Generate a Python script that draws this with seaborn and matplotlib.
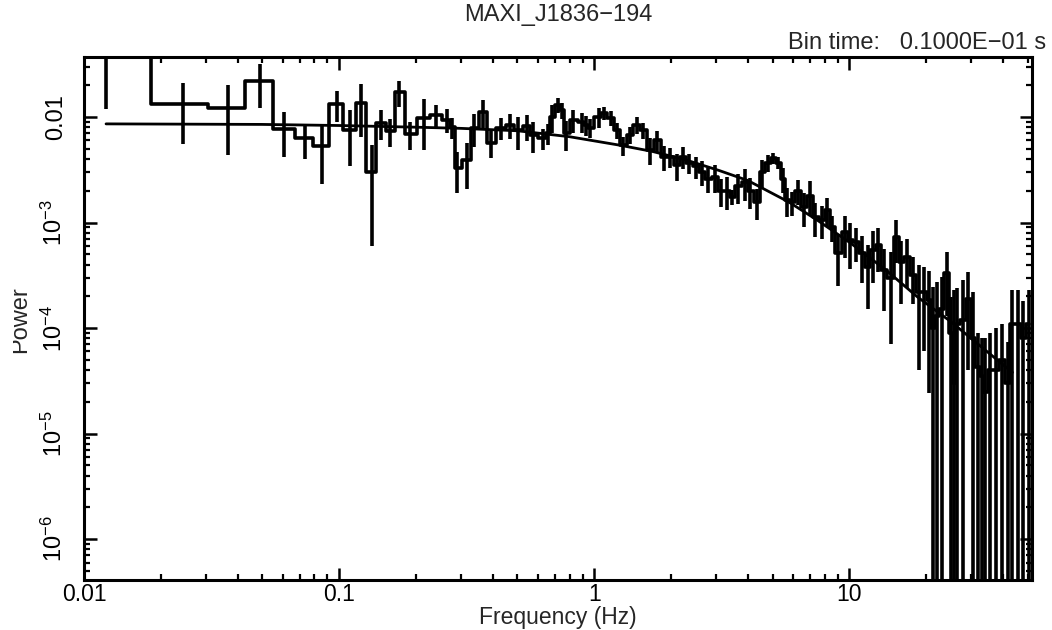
import numpy as np
import matplotlib
matplotlib.use("Agg")
import matplotlib.pyplot as plt
import matplotlib.ticker as mticker
from matplotlib.transforms import Bbox, TransformedBbox
import seaborn as sns

# Rebinned power density spectrum of MAXI J1836-194 (bin time 0.01 s)
freq = [
    0.0122, 0.0244, 0.0366, 0.0488, 0.0610, 0.0732, 0.0854, 0.0977, 0.110, 0.122,
    0.134, 0.146, 0.159, 0.171, 0.190, 0.215, 0.240, 0.265, 0.278, 0.290,
    0.318, 0.338, 0.367, 0.394, 0.432, 0.468, 0.504, 0.546, 0.577, 0.631,
    0.660, 0.684, 0.722, 0.750, 0.777, 0.827, 0.897, 0.930, 0.964, 1.04,
    1.09, 1.16, 1.23, 1.30, 1.38, 1.47, 1.56, 1.66, 1.77, 1.87,
    1.99, 2.11, 2.23, 2.36, 2.51, 2.65, 2.80, 2.98, 3.15, 3.32,
    3.48, 3.67, 3.91, 4.09, 4.36, 4.56, 4.81, 5.04, 5.27, 5.51,
    5.71, 5.97, 6.31, 6.66, 7.03, 7.36, 7.84, 8.21, 8.58, 9.06,
    9.64, 10.1, 10.6, 11.2, 11.8, 12.4, 13.0, 13.7, 14.5, 15.3,
    16.0, 16.9, 17.8, 18.7, 19.7, 20.6, 21.3, 22.1, 23.0, 24.2,
    25.1, 25.8, 26.5, 28.0, 29.3, 30.6, 31.8, 33.0, 34.1, 35.7,
    37.7, 39.8, 41.7, 43.6, 46.0, 48.1, 50.4,
]

power = [
    0.048, 0.0133, 0.0122, 0.0219, 0.0077, 0.0063, 0.0053, 0.0133, 0.0075, 0.0136,
    0.0030, 0.0088, 0.0074, 0.0173, 0.0069, 0.0098, 0.0104, 0.0094, 0.0080, 0.0033,
    0.0039, 0.0079, 0.0111, 0.0057, 0.0079, 0.0084, 0.0075, 0.0082, 0.0068, 0.0063,
    0.0070, 0.0100, 0.0130, 0.0116, 0.0070, 0.0094, 0.0090, 0.0084, 0.0079, 0.0100,
    0.0109, 0.0098, 0.0075, 0.0054, 0.0068, 0.0084, 0.0075, 0.0049, 0.0060, 0.0042,
    0.0042, 0.0035, 0.0042, 0.0037, 0.0034, 0.0030, 0.0026, 0.0027, 0.0020, 0.0020,
    0.00175, 0.0022, 0.0024, 0.0020, 0.00156, 0.0030, 0.0037, 0.0041, 0.0037, 0.0026,
    0.00163, 0.00156, 0.0020, 0.0014, 0.0018, 0.00113, 0.00106, 0.0013, 0.00091, 0.00051,
    0.00081, 0.00068, 0.00065, 0.00051, 0.00038, 0.00055, 0.00061, 0.000355, 0.00030, 0.00073,
    0.00042, 0.00047, 0.00032, 0.00022, 0.00022, 0.000184, 0.00010, 0.00013, 0.00015, 0.00033,
    0.00009, 0.00003, 0.00011, 0.00012, 0.00019, 0.00008, 0.000043, 0.000035, 0.000025, 0.00004,
    0.00004, 0.00005, 0.00003, 0.00011, 0.00011, 0.00008, 0.00011,
]

power_err = [
    0.036, 0.0077, 0.0078, 0.0098, 0.0035, 0.0023, 0.0030, 0.0043, 0.0041, 0.0071,
    0.0024, 0.0028, 0.0022, 0.0048, 0.0020, 0.0049, 0.0026, 0.0024, 0.0018, 0.0014,
    0.0018, 0.0027, 0.0033, 0.0016, 0.0019, 0.0022, 0.0026, 0.0023, 0.0022, 0.0014,
    0.0016, 0.0029, 0.0022, 0.0020, 0.0022, 0.0023, 0.0019, 0.0018, 0.0016, 0.0021,
    0.0015, 0.0016, 0.0013, 0.0011, 0.0012, 0.0015, 0.0013, 0.0014, 0.0014, 0.0011,
    0.0009, 0.0010, 0.0010, 0.0008, 0.0008, 0.0008, 0.0007, 0.0008, 0.0006, 0.0007,
    0.0003, 0.0007, 0.0008, 0.00065, 0.0005, 0.0009, 0.0007, 0.0005, 0.0005, 0.0007,
    0.0005, 0.0004, 0.00055, 0.0005, 0.00065, 0.0004, 0.00036, 0.0004, 0.00025, 0.00026,
    0.00035, 0.00032, 0.00023, 0.00024, 0.00023, 0.00028, 0.00027, 0.00021, 0.00023, 0.00032,
    0.00025, 0.00023, 0.00015, 0.00018, 0.00016, 0.00016, 0.000145, 0.000145, 0.000155, 0.00020,
    0.000105, 0.00020, 0.00013, 0.000165, 0.00015, 0.00014, 0.000046, 0.000045, 0.000055, 0.00005,
    0.00006, 0.00006, 0.000044, 0.00012, 0.00012, 0.0001, 0.00012,
]

# Broad-band continuum model
model_freq = [0.0122, 0.05, 0.1, 0.2, 0.3, 0.5, 0.8, 1.26, 1.7, 2.3,
              3.1, 4.0, 5.8, 7.5, 10.1, 14.0, 18.5, 25.0, 33.0, 43.6]
model_power = [0.0086, 0.0085, 0.0083, 0.0080, 0.0078, 0.0074, 0.0065, 0.0054, 0.0047, 0.0039,
               0.0031, 0.0025, 0.00156, 0.00105, 0.00064, 0.00035, 0.000197, 0.000115, 0.000066, 0.000038]

x_ticks = [0.01, 0.1, 1, 10]
x_ticklabels = ["0.01", "0.1", "1", "10"]
y_ticks = [1e-6, 1e-5, 1e-4, 1e-3, 1e-2]
y_ticklabels = [r"$10^{-6}$", r"$10^{-5}$", r"$10^{-4}$", r"$10^{-3}$", "0.01"]

sns.set_style("ticks")
plt.rcParams["font.family"] = ["Liberation Sans", "DejaVu Sans"]
plt.rcParams["mathtext.fontset"] = "custom"
plt.rcParams["mathtext.rm"] = "Liberation Sans"
plt.rcParams["mathtext.it"] = "Liberation Sans:italic"

FS = 17
W, H = 1052, 630
fig = plt.figure(figsize=(W / 100, H / 100), dpi=100)
left, right, top, bottom = 84, 1032, 57, 580
ax = fig.add_axes([left / W, 1 - bottom / H, (right - left) / W, (bottom - top) / H])

sns.lineplot(x=freq, y=power, ax=ax, drawstyle="steps-mid", color="black",
             linewidth=2.6, sort=False, estimator=None)
ax.errorbar(freq, power, yerr=power_err, fmt="none", ecolor="black",
            elinewidth=2.6, capsize=0)
sns.lineplot(x=model_freq, y=model_power, ax=ax, color="black", linewidth=2.0,
             sort=False, estimator=None)

ax.set_xscale("log")
ax.set_yscale("log")
ax.set_xlim(0.01, 52)
ax.set_ylim(4.1e-7, 0.037)

ax.xaxis.set_major_locator(mticker.FixedLocator(x_ticks))
ax.xaxis.set_major_formatter(mticker.FixedFormatter(x_ticklabels))
ax.xaxis.set_minor_locator(mticker.LogLocator(base=10, subs=np.arange(2, 10)))
ax.xaxis.set_minor_formatter(mticker.NullFormatter())
ax.yaxis.set_major_locator(mticker.FixedLocator(y_ticks))
ax.yaxis.set_major_formatter(mticker.FixedFormatter(y_ticklabels))
ax.yaxis.set_minor_locator(mticker.LogLocator(base=10, subs=np.arange(2, 10)))
ax.yaxis.set_minor_formatter(mticker.NullFormatter())

ax.tick_params(which="both", direction="in", top=True, right=True, colors="black")
ax.tick_params(which="major", length=9, width=1.8)
ax.tick_params(which="minor", length=4.5, width=1.6)
ax.tick_params(axis="x", which="major", labelsize=16.5, pad=2.5)
ax.tick_params(axis="y", which="major", labelsize=FS, pad=12, labelrotation=90)
for lab in ax.get_yticklabels():
    lab.set_verticalalignment("center")
for sp in ax.spines.values():
    sp.set_linewidth(2.2)
    sp.set_color("black")

ax.set_xlabel("")
ax.set_ylabel("")

cx = (left + right) / 2 / W
fig.text(cx, 1 - 624 / H, "Frequency (Hz)", ha="center", va="baseline", fontsize=16.5)
fig.text(cx, 1 - 15 / H, "MAXI_J1836\u2212194", ha="center", va="center", fontsize=FS)
fig.text(1046 / W, 1 - 43 / H, "Bin time:   0.1000E\u221201 s", ha="right", va="center", fontsize=FS)

ylab = fig.text(26 / W, 1 - 320 / H, "Power", rotation=90, rotation_mode="anchor",
                ha="center", va="baseline", fontsize=FS)
ylab.set_clip_box(TransformedBbox(Bbox([[13 / W, 0], [1, 1]]), fig.transFigure))
ylab.set_clip_on(True)

fig.savefig("out.png", dpi=100)
